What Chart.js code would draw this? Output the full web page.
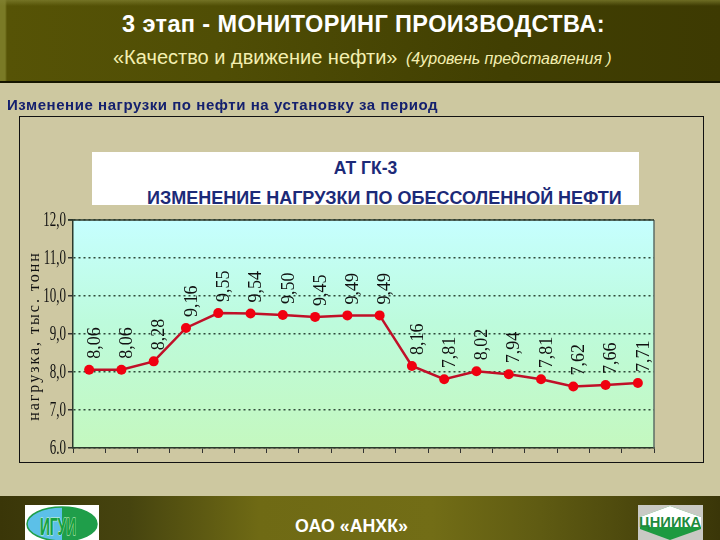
<!DOCTYPE html>
<html>
<head>
<meta charset="utf-8">
<script src="https://cdn.jsdelivr.net/npm/chart.js@4/dist/chart.umd.min.js"></script>
<style>
html,body{margin:0;padding:0;background:#cdc8a0;}
#page{position:relative;width:720px;height:540px;overflow:hidden;font-family:"Liberation Sans",Arial,sans-serif;}
#page div,#page svg{position:absolute;}
#head{left:0;top:0;width:720px;height:83px;background:linear-gradient(90deg,#7a7a26 0,#7a7a26 5px,#565306 7px,#504e05 30%,#413f02 70%,#3d3a02 100%);border-bottom:2px solid #161600;box-sizing:border-box;}
#head2{left:0;top:0;width:720px;height:6px;background:linear-gradient(180deg,rgba(130,130,50,.7),rgba(130,130,50,0));}
.t1{left:122px;top:11px;color:#fff;font-weight:bold;font-size:23.5px;letter-spacing:.4px;white-space:nowrap;}
.t2{left:113px;top:46px;color:#f4efb0;font-size:20px;white-space:nowrap;}
.t2 i{font-size:16px;margin-left:3px;}
.t3{left:7px;top:96px;color:#14206e;font-weight:bold;font-size:15px;letter-spacing:.56px;white-space:nowrap;}
#panel{left:19px;top:116px;width:685px;height:347px;border:1px solid #111;box-sizing:border-box;background:#cec8a2;}
#white{left:92px;top:152px;width:547px;height:53px;background:#fff;}
.c1{left:92px;top:158px;width:547px;text-align:center;color:#1c2a78;font-weight:bold;font-size:17.5px;}
.c2{left:147px;top:188px;white-space:nowrap;color:#1c2a78;font-weight:bold;font-size:18px;}
#foot{left:0;top:496px;width:720px;height:44px;background:linear-gradient(90deg,#3a3608 0,#46440f 18%,#6f6a14 36%,#726d16 60%,#5f5b12 75%,#3a3608 100%);}
.f1{left:295px;top:516px;color:#fff;font-weight:bold;font-size:17.8px;white-space:nowrap;}
canvas{position:absolute;left:0;top:0;}
</style>
</head>
<body>
<div id="page">
  <div id="panel"></div>
  <div id="white"></div>
  <div class="c1">АТ ГК-3</div>
  <div class="c2">ИЗМЕНЕНИЕ НАГРУЗКИ ПО ОБЕССОЛЕННОЙ НЕФТИ</div>
  <canvas id="myChart" width="720" height="540"></canvas>
  <div id="head"></div><div id="head2"></div>
  <div class="t1">3 этап - МОНИТОРИНГ ПРОИЗВОДСТВА:</div>
  <div class="t2">«Качество и движение нефти» <i>(4уровень представления )</i></div>
  <div class="t3">Изменение нагрузки по нефти на установку за период</div>
  <div id="foot"></div>
  <div class="f1">ОАО «АНХК»</div>
  <svg style="left:25px;top:505px" width="74" height="35">
    <rect width="74" height="35" fill="#fff"/>
    <ellipse cx="37" cy="19" rx="35" ry="17" fill="#5cc0e8"/>
    <path d="M37 2A35 17 0 0 1 37 36Z" fill="#1f9e4a"/>
    <ellipse cx="37" cy="19" rx="35" ry="17" fill="none" stroke="#1f9e4a" stroke-width="1.5"/>
    <text x="33" y="30" font-family="Liberation Sans" font-weight="bold" font-size="24" fill="#16a040" stroke="#d8f8d0" stroke-width="1" paint-order="stroke" text-anchor="middle" textLength="36" lengthAdjust="spacingAndGlyphs">ИГУИ</text>
  </svg>
  <svg style="left:638px;top:505px" width="65" height="35">
    <rect width="65" height="35" fill="#c9c9c4"/>
    <polygon points="2,12 32,1 63,12 63,24 32,35 2,24" fill="#1d9a40"/>
    <polygon points="2,12 32,1 63,12 63,22 2,22" fill="#fff"/>
    <text x="32" y="22" font-family="Liberation Sans" font-weight="bold" font-size="15" fill="#1d8a3c" text-anchor="middle" textLength="62" lengthAdjust="spacingAndGlyphs">ЦНИИКА</text>
  </svg>
</div>
<script>
var categories = ['1','2','3','4','5','6','7','8','9','10','11','12','13','14','15','16','17','18'];
var load = [8.06,8.06,8.28,9.16,9.55,9.54,9.50,9.45,9.49,9.49,8.16,7.81,8.02,7.94,7.81,7.62,7.66,7.71];
var pointLabels = ['8,06','8,06','8,28','9,16','9,55','9,54','9,50','9,45','9,49','9,49','8,16','7,81','8,02','7,94','7,81','7,62','7,66','7,71'];
var yTicks = {6:'6.0',7:'7,0',8:'8,0',9:'9,0',10:'10,0',11:'11,0',12:'12,0'};
var yTitle = 'нагрузка, тыс. тонн';

// plot background, rotated labels and the squeezed axis numbers
const decor = {
  id: 'decor',
  beforeDraw(chart) {
    const a = chart.chartArea, ctx = chart.ctx;
    const g = ctx.createLinearGradient(0, a.top, 0, a.bottom);
    g.addColorStop(0, '#c6ffff');
    g.addColorStop(0.45, '#bdfbdc');
    g.addColorStop(1, '#c4f8bf');
    ctx.fillStyle = g;
    ctx.fillRect(a.left, a.top, a.right - a.left, a.bottom - a.top);
  },
  afterDatasetsDraw(chart) {
    const ctx = chart.ctx, a = chart.chartArea, y = chart.scales.y;
    ctx.save();
    ctx.strokeStyle = '#5c6e66';
    ctx.lineWidth = 1.5;
    ctx.beginPath();
    ctx.moveTo(a.right, a.top);
    ctx.lineTo(a.right, a.bottom);
    ctx.stroke();
    ctx.strokeStyle = '#2c3a2c';
    ctx.beginPath();
    ctx.moveTo(a.left - 5, a.top);
    ctx.lineTo(a.right, a.top);
    ctx.stroke();

    ctx.fillStyle = '#111';
    ctx.font = '18px "Liberation Serif"';
    ctx.textBaseline = 'middle';
    chart.getDatasetMeta(0).data.forEach(function (p, i) {
      ctx.save();
      ctx.translate(p.x + 6, p.y - 11);
      ctx.rotate(-Math.PI / 2);
      ctx.fillText(pointLabels[i], 0, 0);
      ctx.restore();
    });

    // numbers in the picture are tall and narrow
    ctx.font = '21px "Liberation Serif"';
    ctx.textAlign = 'right';
    Object.keys(yTicks).forEach(function (v) {
      ctx.save();
      ctx.translate(66, y.getPixelForValue(Number(v)));
      ctx.scale(0.62, 1);
      ctx.fillText(yTicks[v], 0, 0);
      ctx.restore();
    });

    ctx.font = '16px "Liberation Serif"';
    ctx.letterSpacing = '2px';
    ctx.textAlign = 'center';
    ctx.translate(35, 336);
    ctx.rotate(-Math.PI / 2);
    ctx.fillText(yTitle, 0, 0);
    ctx.restore();
  }
};

const myChart = new Chart(document.getElementById('myChart'), {
  type: 'line',
  data: {
    labels: categories,
    datasets: [{
      data: load,
      borderColor: '#c01028',
      borderWidth: 2.5,
      tension: 0,
      pointRadius: 5,
      pointBackgroundColor: '#f00010',
      pointBorderColor: '#f00010',
      pointBorderWidth: 0
    }]
  },
  plugins: [decor],
  options: {
    responsive: false,
    animation: false,
    layout: { padding: { left: 33, top: 220, right: 66, bottom: 87 } },
    plugins: { legend: { display: false }, title: { display: false }, tooltip: { enabled: false } },
    scales: {
      x: {
        offset: true,
        grid: { offset: true, drawOnChartArea: false, drawTicks: true, tickLength: 5, tickColor: '#333' },
        border: { color: '#2c3a2c', width: 1.5 },
        ticks: { display: false },
        afterFit(s) { s.height = 5; }
      },
      y: {
        min: 6,
        max: 12,
        afterFit(s) { s.width = 40; },
        grid: { color: '#2f4a3a', lineWidth: 1.5, tickLength: 5, tickColor: '#333' },
        border: { color: '#2c3a2c', width: 1.5, dash: [2, 3] },
        ticks: { stepSize: 1, display: false }
      }
    }
  }
});
</script>
</body>
</html>
